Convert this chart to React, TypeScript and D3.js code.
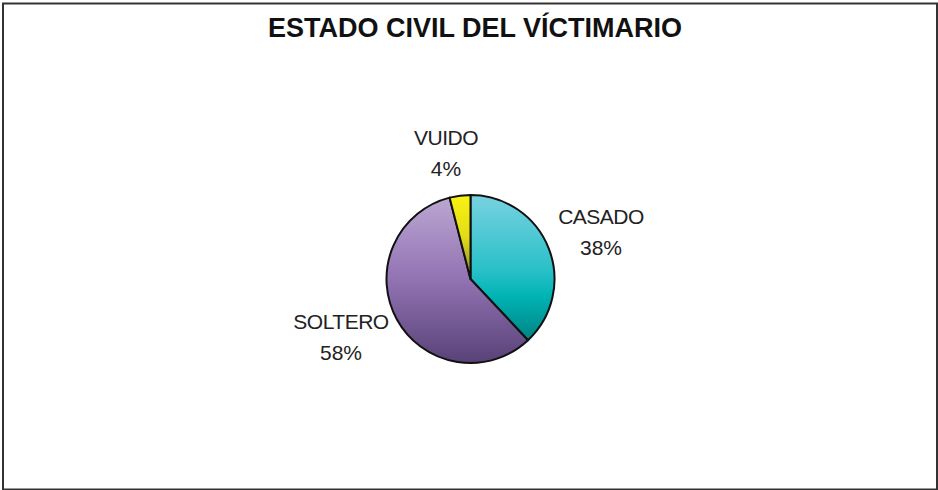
import React from "react";
import * as d3 from "d3";

const categories = ["CASADO", "SOLTERO", "VUIDO"];
const percents = [38, 58, 4];
const title = "ESTADO CIVIL DEL VÍCTIMARIO";

const W = 938;
const H = 490;
const cx = 470.5;
const cy = 279;
const R = 84;

// Vertical gradient stops for each slice, top of the pie to the bottom
const gradients: Record<string, [number, string][]> = {
  CASADO: [
    [0, "#78d2e0"],
    [0.45, "#29c0c8"],
    [0.6, "#00b4b4"],
    [1, "#006a6c"],
  ],
  SOLTERO: [
    [0, "#bca8d2"],
    [0.5, "#9273b3"],
    [1, "#584277"],
  ],
  VUIDO: [
    [0, "#faf210"],
    [0.25, "#e2dc18"],
    [0.5, "#88863c"],
    [1, "#88863c"],
  ],
};

// Label anchor points (centre x, baseline of first line)
const labelPos: Record<string, [number, number]> = {
  CASADO: [601, 224],
  SOLTERO: [341, 329],
  VUIDO: [446, 145],
};

export default function App() {
  const pie = d3
    .pie<number>()
    .sort(null)
    .value((d) => d)
    .startAngle(0)
    .endAngle(2 * Math.PI);
  const arcs = pie(percents);
  const arc = d3.arc<d3.PieArcDatum<number>>().innerRadius(0).outerRadius(R);

  return (
    <svg
      width={W}
      height={H}
      style={{ position: "fixed", left: 0, top: 0, background: "#fff" }}
      fontFamily="'Liberation Sans', Arial, sans-serif"
    >
      <defs>
        {categories.map((c) => (
          <linearGradient
            key={c}
            id={`g-${c}`}
            gradientUnits="userSpaceOnUse"
            x1={0}
            x2={0}
            y1={-R}
            y2={R}
          >
            {gradients[c].map(([o, col], i) => (
              <stop key={i} offset={o} stopColor={col} />
            ))}
          </linearGradient>
        ))}
      </defs>
      <rect x={0} y={0} width={W} height={H} fill="#fff" />
      <rect
        x={3}
        y={3.5}
        width={934}
        height={486}
        fill="none"
        stroke="#333"
        strokeWidth={2}
      />
      <text
        x={475}
        y={37}
        textAnchor="middle"
        fontWeight="bold"
        fontSize={27}
        fill="#111"
      >
        {title}
      </text>
      <g transform={`translate(${cx},${cy})`}>
        {arcs.map((a, i) => (
          <path
            key={categories[i]}
            d={arc(a) || ""}
            fill={`url(#g-${categories[i]})`}
            stroke="#111"
            strokeWidth={2}
            strokeLinejoin="round"
          />
        ))}
      </g>
      {categories.map((c, i) => {
        const [x, y] = labelPos[c];
        return (
          <text key={c} textAnchor="middle" fontSize={21} fill="#222">
            <tspan x={x} y={y} letterSpacing={-0.5}>
              {c}
            </tspan>
            <tspan x={x} y={y + 30.5}>
              {`${percents[i]}%`}
            </tspan>
          </text>
        );
      })}
    </svg>
  );
}
